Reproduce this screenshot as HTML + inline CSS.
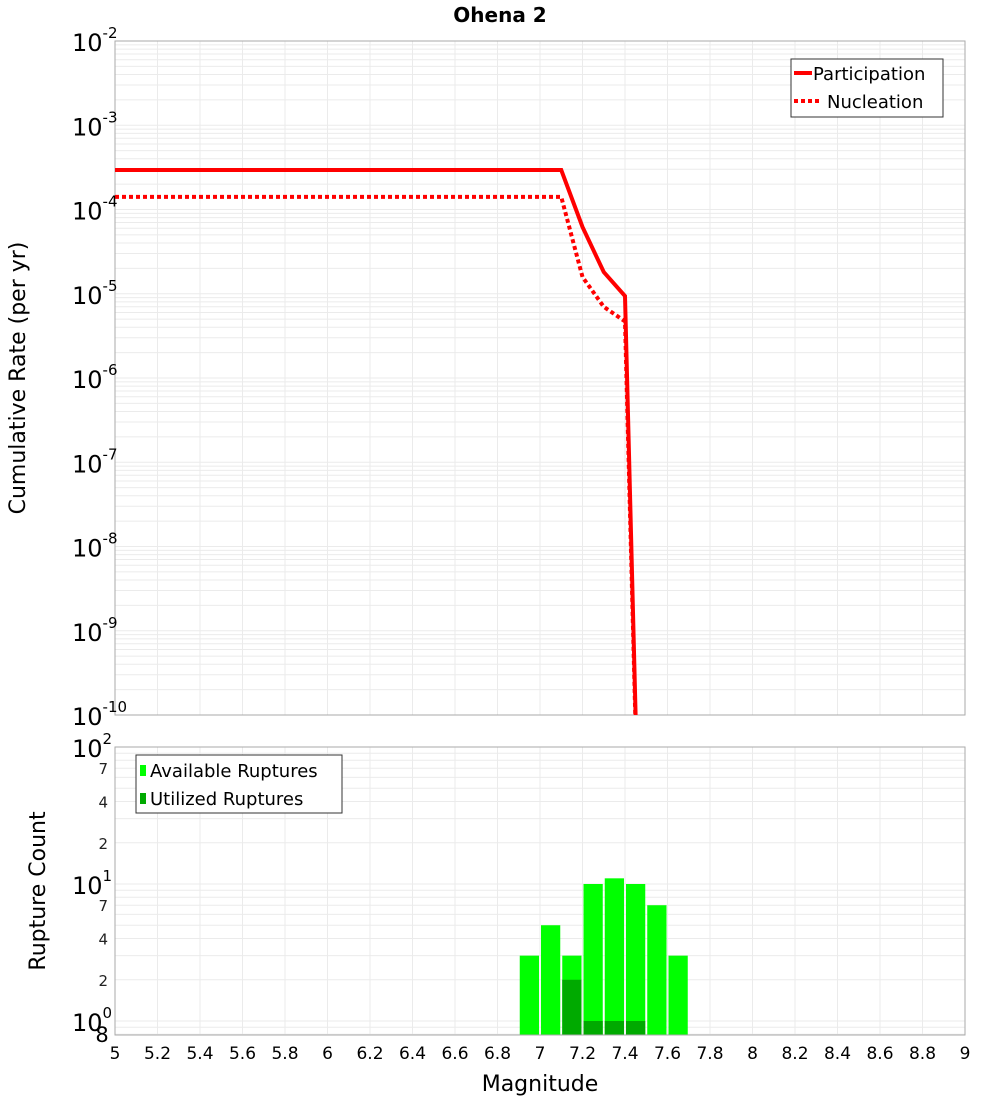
<!DOCTYPE html>
<html><head><meta charset="utf-8"><style>
body{margin:0;background:#fff;}
svg{display:block;font-family:"DejaVu Sans","Liberation Sans",sans-serif;}
</style></head><body>
<svg id="c" width="1000" height="1100" xmlns="http://www.w3.org/2000/svg"></svg>
<script>
const mags = [5.0, 7.1, 7.2, 7.3, 7.4, 7.5];
const participation = [2.94e-4, 2.94e-4, 6.2e-5, 1.81e-5, 9.4e-6, 1e-15];
const nucleation = [1.41e-4, 1.41e-4, 1.58e-5, 7.0e-6, 4.7e-6, 1e-15];
const binCenters = [6.95, 7.05, 7.15, 7.25, 7.35, 7.45, 7.55, 7.65];
const available = [3, 5, 3, 10, 11, 10, 7, 3];
const utilized = [0, 0, 2, 1, 1, 1, 0, 0];
const xTicks = [5,5.2,5.4,5.6,5.8,6,6.2,6.4,6.6,6.8,7,7.2,7.4,7.6,7.8,8,8.2,8.4,8.6,8.8,9];
const topExp = [-10,-9,-8,-7,-6,-5,-4,-3,-2];
const botMinor = [2,4,7,20,40,70];

const NS="http://www.w3.org/2000/svg";
const svg=document.getElementById('c');
function el(t,a,p){const e=document.createElementNS(NS,t);for(const k in a)e.setAttribute(k,a[k]);(p||svg).appendChild(e);return e;}
const L=115,R=965;
const X=m=>L+(m-5)/4*(R-L);
const T0=41,T1=715;
const Yt=v=>T0+(-2-Math.log10(v))*(T1-T0)/8;
const B0=747,B1=1035;
const Yb=v=>B0+(2-Math.log10(v))*137;

let g=el('g',{});
el('rect',{x:L,y:T0,width:R-L,height:T1-T0,fill:'#fff'},g);
for(let e=-10;e<-2;e++)for(let k=1;k<10;k++){const y=Yt(k*Math.pow(10,e));el('line',{x1:L,x2:R,y1:y,y2:y,stroke:'#ebebeb','stroke-width':1},g);}
xTicks.forEach(m=>el('line',{x1:X(m),x2:X(m),y1:T0,y2:T1,stroke:'#ebebeb'},g));
el('rect',{x:L,y:T0,width:R-L,height:T1-T0,fill:'none',stroke:'#aaa'},g);
const clip=el('clipPath',{id:'tc'});el('rect',{x:L,y:T0,width:R-L,height:T1-T0},clip);
function pts(a){return mags.map((m,i)=>X(m)+','+Yt(a[i])).join(' ');}
let p=el('polyline',{points:pts(participation),fill:'none',stroke:'#f00','stroke-width':4,'clip-path':'url(#tc)'},g);

p=el('polyline',{points:pts(nucleation),fill:'none',stroke:'#f00','stroke-width':4,'stroke-dasharray':'4,3','clip-path':'url(#tc)'},g);

topExp.forEach(e=>{const y=Yt(Math.pow(10,e));
 const t=el('text',{x:72,y:y+10,'font-size':24,fill:'#000'});
 t.textContent='10';const s=el('tspan',{dy:-13,'font-size':15},t);s.textContent=e;});
let lg=el('g',{});
el('rect',{x:791,y:59,width:152,height:58,fill:'#fff',stroke:'#333'},lg);
el('line',{x1:794,x2:812,y1:73,y2:73,stroke:'#f00','stroke-width':4},lg);
el('line',{x1:794,x2:820,y1:101,y2:101,stroke:'#f00','stroke-width':4,'stroke-dasharray':'4,3'},lg);
let t=el('text',{x:813,y:80,'font-size':18},lg);t.textContent='Participation';
t=el('text',{x:827,y:108,'font-size':18},lg);t.textContent='Nucleation';
t=el('text',{x:25,y:378,'font-size':22,'text-anchor':'middle',transform:'rotate(-90 25 378)'});t.textContent='Cumulative Rate (per yr)';

t=el('text',{x:500,y:22,'font-size':20,'font-weight':'bold','text-anchor':'middle'});t.textContent='Ohena 2';


g=el('g',{});
for(let e=-1;e<2;e++)for(let k=1;k<10;k++){const y=Yb(k*Math.pow(10,e));if(y>=B0&&y<=B1)el('line',{x1:L,x2:R,y1:y,y2:y,stroke:'#ebebeb'},g);}
xTicks.forEach(m=>el('line',{x1:X(m),x2:X(m),y1:B0,y2:B1,stroke:'#ebebeb'},g));
const bw=X(0.1)-X(0);
binCenters.forEach((c,i)=>{
 const x=X(c-0.05)+1;
 let r=el('rect',{x:x,y:Yb(available[i]),width:bw-2,height:B1-Yb(available[i]),fill:'#00ff00'},g);
 
 if(utilized[i]>0){r=el('rect',{x:x,y:Yb(utilized[i]),width:bw-2,height:B1-Yb(utilized[i]),fill:'#00aa00'},g);
 }
});
el('rect',{x:L,y:B0,width:R-L,height:B1-B0,fill:'none',stroke:'#aaa'},g);
[2,1,0].forEach(e=>{const y=Yb(Math.pow(10,e));
 const t=el('text',{x:72,y:y+10,'font-size':24});
 t.textContent='10';const s=el('tspan',{dy:-13,'font-size':15},t);s.textContent=e;});
botMinor.forEach(v=>{const t=el('text',{x:108,y:Yb(v)+6,'font-size':15,'text-anchor':'end',fill:'#222'});t.textContent=String(v%10===0?v/10:v);
 });
t=el('text',{x:102,y:1042,'font-size':21,'text-anchor':'middle'});t.textContent='8';
lg=el('g',{});
el('rect',{x:136,y:755,width:206,height:58,fill:'#fff',stroke:'#333'},lg);
el('rect',{x:140,y:765,width:6,height:11,fill:'#00ff00'},lg);
el('rect',{x:140,y:793,width:6,height:11,fill:'#00aa00'},lg);
t=el('text',{x:150,y:777,'font-size':18},lg);t.textContent='Available Ruptures';
t=el('text',{x:150,y:805,'font-size':18},lg);t.textContent='Utilized Ruptures';
t=el('text',{x:45,y:891,'font-size':22,'text-anchor':'middle',transform:'rotate(-90 45 891)'});t.textContent='Rupture Count';

xTicks.forEach(m=>{const t=el('text',{x:X(m),y:1059,'font-size':17,'text-anchor':'middle'});t.textContent=String(m);
 });
t=el('text',{x:540,y:1091,'font-size':22,'text-anchor':'middle'});t.textContent='Magnitude';

</script>
</body></html>
